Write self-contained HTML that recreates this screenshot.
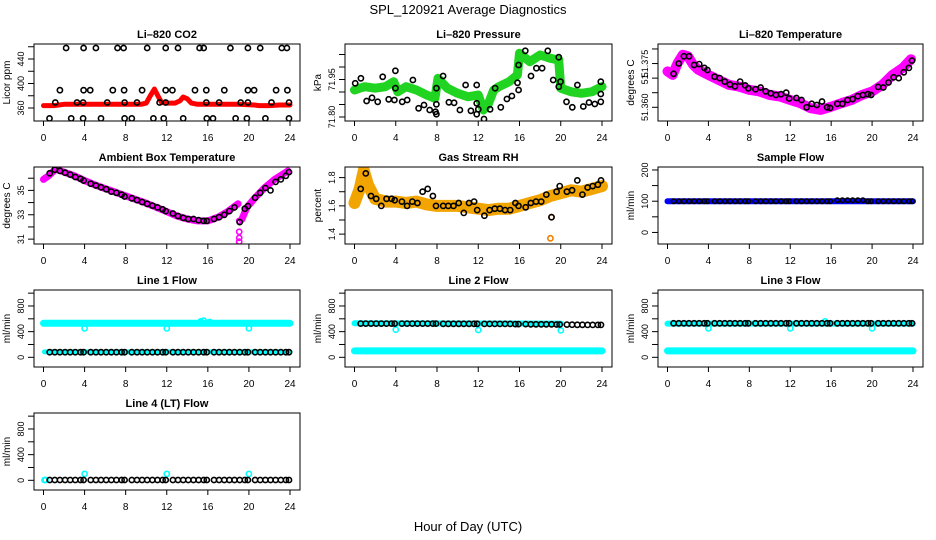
<!DOCTYPE html>
<html><head><meta charset="utf-8"><style>
html,body{margin:0;padding:0;background:#fff}
svg{display:block;font-family:"Liberation Sans",sans-serif}
</style></head><body>
<svg id="c" width="936" height="540" viewBox="0 0 936 540">
<rect width="936" height="540" fill="#fff"/>
<text x="468" y="14" text-anchor="middle" font-size="13">SPL_120921  Average Diagnostics</text>
<text x="468" y="531" text-anchor="middle" font-size="13">Hour of Day (UTC)</text>
</svg>
<script>
// ---- data ----
const xTicks = [0,4,8,12,16,20,24];
const H = [0.6,1.1,1.6,2.1,2.6,3.1,3.6,3.9,4.6,5.1,5.6,6.1,6.6,7.1,7.6,7.9,8.6,9.1,9.6,10.1,10.6,11.1,11.6,11.9,12.6,13.1,13.6,14.1,14.6,15.1,15.6,15.9,16.6,17.1,17.6,18.1,18.6,19.1,19.6,19.9,20.6,21.1,21.6,22.1,22.6,23.1,23.6,23.9];

const co2BandH = [0,1,2,4,6,8,9.5,10,10.4,10.8,11.2,11.5,12,12.8,13.3,13.6,14,14.4,15,17,19,20.5,21,22,23,24];
const co2BandV = [364,364,366,366,366,366,366,368,380,391,378,369,368,368,372,378,375,368,366,366,366,365,364,364,365,365];
const co2PtH = [2.2,3.9,5.1,7.2,7.8,10.1,11.9,13.1,15.2,15.6,18.2,19.9,21.1,23.2,23.7, 1.6,3.9,4.55,6.75,7.85,9.6,11.9,12.55,14.75,15.85,17.6,19.9,20.5,22.65,23.75, 1.15,3.26,3.86,6.2,7.9,9.1,11.3,11.9,15.85,17.1,19.2,19.9,22.2,23.9, 0.58,2.7,3.86,5.6,7.9,8.6,10.7,11.7,13.6,15.9,16.5,18.7,19.8,21.6,23.9];
const co2PtV = [458,458,458,458,458,458,458,458,458,458,458,458,458,458,458, 389,389,389,389,389,389,389,389,389,389,389,389,389,389,389, 369,369,369,369,369,369,369,369,369,369,369,369,369,369, 343,343,343,343,343,343,343,343,343,343,343,343,343,343,343];

const presBandH = [0,0.5,1,2,3,3.8,4.2,5,6,7,7.8,8.1,9,10,11,12,12.5,13,13.5,14,15,15.8,16,17,18,19,19.8,20,21,22,23,24];
const presBandV = [71.908,71.915,71.921,71.915,71.921,71.941,71.901,71.921,71.908,71.888,71.875,71.955,71.915,71.895,71.881,71.888,71.828,71.855,71.908,71.921,71.941,71.968,72.055,72.021,72.048,72.035,72.028,71.915,71.901,71.895,71.901,71.921];
const presPtH = [0.07,0.62,1.17,1.7,2.25,2.73,3.32,3.87,3.97,3.97,4.63,5.11,5.66,6.22,6.74,7.29,7.85,7.94,7.94,7.94,8.59,9.15,9.66,10.22,10.77,11.29,11.85,11.85,11.85,12.0,12.56,13.15,13.63,14.19,14.78,15.26,15.81,15.91,15.91,16.56,17.12,17.64,18.19,18.74,19.27,19.81,19.81,19.98,20.56,21.12,21.61,22.19,22.74,23.3,23.88,23.88,23.88];
const presPtV = [71.935,71.955,71.864,71.877,71.861,71.961,71.871,71.868,71.985,71.915,71.861,71.868,71.948,71.835,71.848,71.828,71.821,71.811,71.851,71.915,71.964,71.859,71.857,71.828,71.928,71.825,71.928,71.855,71.811,71.831,71.792,71.831,71.915,71.839,71.872,71.884,71.937,71.908,72.008,72.065,71.964,71.995,71.995,72.065,71.948,72.039,71.921,71.941,71.861,71.839,71.928,71.842,71.858,71.852,71.861,71.892,71.941];

const tempBandH = [0,0.5,1,1.5,2,2.5,3,4,5,6,7,8,9,10,11,12,13,14,15,16,17,18,19,20,21,22,23,23.8];
const tempBandV = [51.3723,51.3711,51.3752,51.3780,51.3775,51.3746,51.3729,51.3711,51.3694,51.3677,51.3671,51.3660,51.3654,51.3642,51.3637,51.3625,51.3614,51.3597,51.3591,51.3602,51.3614,51.3625,51.3642,51.3654,51.3677,51.3711,51.3735,51.3765];
const tempPtV = [51.3715,51.3750,51.3775,51.3775,51.3745,51.3748,51.3735,51.3728,51.3705,51.3700,51.3688,51.3678,51.3672,51.3688,51.3675,51.3665,51.3662,51.3668,51.3655,51.3648,51.3642,51.3645,51.3650,51.3630,51.3632,51.3625,51.3600,51.3612,51.3608,51.3620,51.3600,51.3598,51.3612,51.3612,51.3625,51.3628,51.3638,51.3642,51.3645,51.3642,51.3670,51.3668,51.3685,51.3703,51.3700,51.3720,51.3735,51.3760];

const ambBandH = [0,0.5,1.2,2,3,4,5,6,7,8,9,10,11,12,13,14,15,16,17,18,18.95];
const ambBandV = [35.9,36.2,36.75,36.5,36.2,35.8,35.45,35.15,34.85,34.55,34.25,33.95,33.6,33.25,32.9,32.65,32.5,32.5,32.8,33.3,33.9];
const ambBand2H = [19.3,19.8,20.5,21.5,22.5,23.8];
const ambBand2V = [32.6,33.6,34.3,35.2,35.9,36.6];
const ambDipH = [19.05,19.05,19.05,19.05];
const ambDipV = [32.5,31.6,31.1,30.8];
const ambPtV = [36.4,36.7,36.6,36.45,36.3,36.1,35.95,35.8,35.55,35.4,35.25,35.1,34.9,34.8,34.65,34.5,34.35,34.2,34.05,33.9,33.75,33.6,33.45,33.3,33.1,32.9,32.75,32.65,32.65,32.55,32.5,32.5,32.65,32.8,33.0,33.3,33.6,32.4,33.5,33.7,34.4,34.8,35.2,35.0,35.7,35.9,36.2,36.5];

const rhBandH = [0,0.5,0.9,1.3,2,3,4,5,6,7,8,9,10,11,12,13,14,15,16,17,18,19,20,21,22,23,24];
const rhBandV = [1.62,1.72,1.85,1.75,1.65,1.63,1.63,1.62,1.63,1.61,1.60,1.60,1.60,1.59,1.58,1.57,1.58,1.58,1.60,1.62,1.64,1.67,1.69,1.71,1.70,1.72,1.74];
const rhOutH = [19.0,19.1];
const rhOutV = [1.37,1.52];
const rhPtV = [1.72,1.83,1.67,1.65,1.60,1.65,1.65,1.64,1.63,1.60,1.63,1.62,1.70,1.72,1.67,1.60,1.60,1.60,1.60,1.62,1.55,1.62,1.63,1.57,1.53,1.57,1.58,1.58,1.57,1.57,1.62,1.60,1.59,1.62,1.63,1.63,1.68,1.52,1.70,1.74,1.70,1.71,1.78,1.68,1.73,1.74,1.75,1.78];

const sampleBandH = [0,24];
const sampleBandV = [100,100];
const samplePtV = [100,100,100,100,100,100,100,100,100,100,100,100,100,100,100,100,100,100,100,100,100,100,100,100,100,100,100,100,100,100,100,100,103,103,103,103,103,103,100,100,100,100,100,100,100,100,100,100];

const l1BandH = [0,24];
const l1BandV = [530,530];
const l1DipH = [4,12,20,15.3,15.6,16.2];
const l1DipV = [450,450,450,560,570,550];
const l1PtV = [80,80,80,80,80,80,80,80,80,80,80,80,80,80,80,80,80,80,80,80,80,80,80,80,80,80,80,80,80,80,80,80,80,80,80,80,80,80,80,80,80,80,80,80,80,80,80,80];

const l2BandH = [0,24];
const l2BandV = [100,100];
const l2Band2H = [0,20];
const l2Band2V = [530,525];
const l2DipH = [4,12,20];
const l2DipV = [430,425,420];
const l2PtV = [525,525,525,525,525,525,525,525,525,525,525,525,525,525,525,525,522,522,522,522,522,522,522,522,520,520,520,520,520,520,518,518,518,515,515,515,515,515,512,512,510,508,507,506,505,505,505,505];

const l3BandH = [0,24];
const l3BandV = [100,100];
const l3Band2H = [0,24];
const l3Band2V = [525,525];
const l3DipH = [4,12,20,15.4];
const l3DipV = [450,450,450,560];
const l3PtV = [530,530,530,530,530,530,530,530,530,530,530,530,530,530,530,530,530,530,530,530,530,530,530,530,530,530,530,530,530,530,530,530,530,530,530,530,530,530,530,530,530,530,530,530,530,530,530,530];

const l4DipH = [0.1,0.2,4,12,20];
const l4DipV = [5,5,100,100,100];
const l4PtV = [5,5,5,5,5,5,5,5,5,5,5,5,5,5,5,5,5,5,5,5,5,5,5,5,5,5,5,5,5,5,5,5,5,5,5,5,5,5,5,5,5,5,5,5,5,5,5,5];

const flowTicks = [0,200,400,600,800,1000];
const flowLabels = ["0","","400","","800",""];

// ---- drawing ----
const NS = "http://www.w3.org/2000/svg";
const svg = document.getElementById('c');
const colL = [34,345,658], colW = [266,267,265];
const rowT = [44,167,290,413], rowH = 77;

function mk(tag, attrs, parent){
  const e = document.createElementNS(NS, tag);
  for (const k in attrs) e.setAttribute(k, attrs[k]);
  (parent||svg).appendChild(e); return e;
}

function panel(key, col, row, ymin, ymax, yTicks, yLabels, title, ytitle){
  const L = colL[col], W = colW[col], T = rowT[row], B = T + rowH;
  const g = mk('g', {});
  
  
  const sx = h => L + 9.5 + h / 24 * (W - 19.5);
  const sy = v => B - (v - ymin) / (ymax - ymin) * rowH;
  const t = mk('text', {x: L + W/2, y: T - 6, 'text-anchor':'middle', 'font-size':11, 'font-weight':'bold'}, g);
  t.textContent = title;
  
  
  const xa = mk('g', {}, g);
  
  
  mk('line', {x1: sx(0), x2: sx(24), y1: B, y2: B, stroke:'#000'}, xa);
  xTicks.forEach(v => {
    mk('line', {x1: sx(v), x2: sx(v), y1: B, y2: B + 5, stroke:'#000'}, xa);
    const tl = mk('text', {x: sx(v), y: B + 20, 'text-anchor':'middle', 'font-size':10}, xa);
    tl.textContent = v;
  });
  const ya = mk('g', {}, g);
  
  
  yTicks.forEach((v, i) => {
    const y = sy(v);
    if (y < T - 0.5 || y > B + 0.5) return;
    mk('line', {x1: L - 6, x2: L, y1: y, y2: y, stroke:'#000'}, ya);
    if (yLabels[i]) {
      const tl = mk('text', {x: L - 10, y: y, 'text-anchor':'middle', 'font-size':9, transform:`rotate(-90 ${L-10} ${y})`}, ya);
      tl.textContent = yLabels[i];
    }
  });
  const yt = mk('text', {x: L - 24, y: T + rowH/2, 'text-anchor':'middle', 'font-size':10, transform:`rotate(-90 ${L-24} ${T+rowH/2})`}, g);
  yt.textContent = ytitle;
  
  
  const clip = mk('clipPath', {id: 'cl-' + key}, g);
  mk('rect', {x: L, y: T, width: W, height: rowH}, clip);
  const plot = mk('g', {'clip-path': `url(#cl-${key})`}, g);
  
  
  mk('rect', {x: L, y: T, width: W, height: rowH, fill:'none', stroke:'#000'}, g);
  return {sx, sy, plot, key};
}

function band(p, hs, vs, color, w, name){
  const d = hs.map((h, i) => (i ? 'L' : 'M') + p.sx(h).toFixed(1) + ' ' + p.sy(vs[i]).toFixed(1)).join(' ');
  const e = mk('path', {d, fill:'none', stroke: color, 'stroke-width': w, 'stroke-linejoin':'round', 'stroke-linecap':'round'}, p.plot);
  
  
}
function pts(p, hs, vs, color, name, r){
  const g = mk('g', {}, p.plot);
  
  
  hs.forEach((h, i) => {
    mk('circle', {cx: p.sx(h).toFixed(1), cy: p.sy(vs[i]).toFixed(1), r: r || 2.6, fill:'none', stroke: color, 'stroke-width': 1.6}, g);
  });
}

// Li-820 CO2
let p = panel('co2', 0, 0, 338.8, 464.5, [360,380,400,420,440,460], ["360","","400","","440",""], 'Li\u2013820 CO2', 'Licor ppm');
band(p, co2BandH, co2BandV, '#ff0000', 5, 'co2-series');
pts(p, co2PtH, co2PtV, '#000', 'co2-hourly-points');

// Pressure
p = panel('pressure', 1, 0, 71.784, 72.092, [71.80,71.85,71.90,71.95,72.00,72.05], ["71.80","","","71.95","",""], 'Li\u2013820 Pressure', 'kPa');
band(p, presBandH, presBandV, '#22d422', 9, 'pressure-series');
pts(p, presPtH, presPtV, '#000', 'pressure-hourly-points');

// Temperature
p = panel('temperature', 2, 0, 51.3553, 51.3817, [51.355,51.360,51.365,51.370,51.375,51.380], ["","51.360","","51.","51.375",""], 'Li\u2013820 Temperature', 'degrees C');
band(p, tempBandH, tempBandV, '#ff00ff', 10, 'temperature-series');
pts(p, H, tempPtV, '#000', 'temperature-hourly-points');

// Ambient box temperature
p = panel('ambient', 0, 1, 30.6, 36.92, [31,32,33,34,35,36], ["31","","33","","35",""], 'Ambient Box Temperature', 'degrees C');
band(p, ambBandH, ambBandV, '#ff00ff', 7, 'ambient-series');
band(p, ambBand2H, ambBand2V, '#ff00ff', 7, 'ambient-series-2');
pts(p, ambDipH, ambDipV, '#ff00ff', 'ambient-dip-points');
pts(p, H, ambPtV, '#000', 'ambient-hourly-points');

// Gas stream RH
p = panel('rh', 1, 1, 1.33, 1.875, [1.4,1.5,1.6,1.7,1.8], ["1.4","","1.6","","1.8"], 'Gas Stream RH', 'percent');
band(p, rhBandH, rhBandV, '#f2a400', 12, 'rh-series');
pts(p, rhOutH, rhOutV, '#f28000', 'rh-outlier-points');
pts(p, H, rhPtV, '#000', 'rh-hourly-points');

// Sample flow
p = panel('sample-flow', 2, 1, -37, 209.5, [0,50,100,150,200], ["0","","100","","200"], 'Sample Flow', 'ml/min');
band(p, sampleBandH, sampleBandV, '#0000ff', 6, 'sample-flow-series');
pts(p, H, samplePtV, '#000', 'sample-flow-hourly-points', 2.2);

// Line 1
p = panel('line1', 0, 2, -151, 1049, flowTicks, flowLabels, 'Line 1 Flow', 'ml/min');
band(p, l1BandH, l1BandV, '#00ffff', 7, 'line1-series');
pts(p, l1DipH, l1DipV, '#00ffff', 'line1-cyan-points');
band(p, [0.1,24], [85,85], '#00ffff', 5, 'line1-low-series');
pts(p, H, l1PtV, '#000', 'line1-hourly-points');

// Line 2
p = panel('line2', 1, 2, -151, 1049, flowTicks, flowLabels, 'Line 2 Flow', 'ml/min');
band(p, l2BandH, l2BandV, '#00ffff', 7, 'line2-series');
band(p, l2Band2H, l2Band2V, '#00ffff', 6, 'line2-upper-series');
pts(p, l2DipH, l2DipV, '#00ffff', 'line2-cyan-points');
pts(p, H, l2PtV, '#000', 'line2-hourly-points');

// Line 3
p = panel('line3', 2, 2, -151, 1049, flowTicks, flowLabels, 'Line 3 Flow', 'ml/min');
band(p, l3BandH, l3BandV, '#00ffff', 7, 'line3-series');
band(p, l3Band2H, l3Band2V, '#00ffff', 6, 'line3-upper-series');
pts(p, l3DipH, l3DipV, '#00ffff', 'line3-cyan-points');
pts(p, H, l3PtV, '#000', 'line3-hourly-points');

// Line 4
p = panel('line4', 0, 3, -151, 1049, flowTicks, flowLabels, 'Line 4 (LT) Flow', 'ml/min');
pts(p, l4DipH, l4DipV, '#00ffff', 'line4-cyan-points');
pts(p, H, l4PtV, '#000', 'line4-hourly-points');
</script>
</body></html>
